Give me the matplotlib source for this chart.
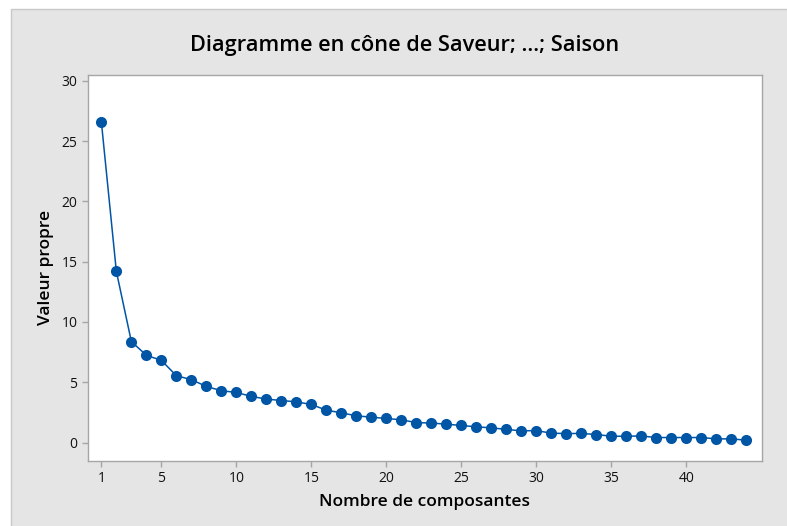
import matplotlib.pyplot as plt
from matplotlib.patches import Rectangle

# composantes 1..44 et valeurs propres
composantes = list(range(1, 45))
valeurs = [26.6, 14.2, 8.38, 7.24, 6.82, 5.55, 5.22, 4.66, 4.30, 4.16,
           3.83, 3.61, 3.49, 3.38, 3.16, 2.69, 2.47, 2.22, 2.11, 2.00,
           1.89, 1.66, 1.62, 1.53, 1.42, 1.31, 1.22, 1.10, 0.97, 1.00,
           0.78, 0.75, 0.76, 0.67, 0.53, 0.53, 0.55, 0.42, 0.42, 0.42,
           0.42, 0.31, 0.31, 0.20]
xticks = [1, 5, 10, 15, 20, 25, 30, 35, 40]
yticks = [0, 5, 10, 15, 20, 25, 30]

W, H = 787, 526
plt.rcParams['font.family'] = ['Open Sans', 'DejaVu Sans']

fig = plt.figure(figsize=(W / 100, H / 100), dpi=100)
fig.patch.set_facecolor('white')
fig.patches.append(Rectangle((11 / W, -0.01), 1.0, (526 - 9) / H + 0.01,
                             transform=fig.transFigure, facecolor='#e5e5e5',
                             edgecolor='#c8c8c8', linewidth=1, zorder=-10))

ax = fig.add_axes([87.7 / W, (H - 460.7) / H, (762.3 - 87.7) / W, (460.7 - 74.7) / H])
ax.set_zorder(1)
ax.set_facecolor('white')
ax.plot(composantes, valeurs, '-o', color='#0055a5', linewidth=1.1,
        markersize=8, markeredgewidth=0)

ax.set_xlim(0.09, 45.07)
ax.set_ylim(-1.5, 30.5)
ax.set_xticks(xticks)
ax.set_yticks(yticks)
for s in ax.spines.values():
    s.set_color('#a6a6a6')
    s.set_linewidth(1)
ax.tick_params(colors='#a6a6a6', labelcolor='#111111', length=4, width=1,
               labelsize=10)

ax.set_xlabel('Nombre de composantes', fontsize=12.5, fontweight='semibold', labelpad=6)
ax.set_ylabel('Valeur propre', fontsize=12.5, fontweight='semibold', labelpad=5)
fig.text(405 / W, 1 - 45 / H, 'Diagramme en cône de Saveur; ...; Saison',
         ha='center', va='center', fontsize=15.7, fontweight='semibold')

fig.savefig('out.png', dpi=100, facecolor=fig.get_facecolor())
